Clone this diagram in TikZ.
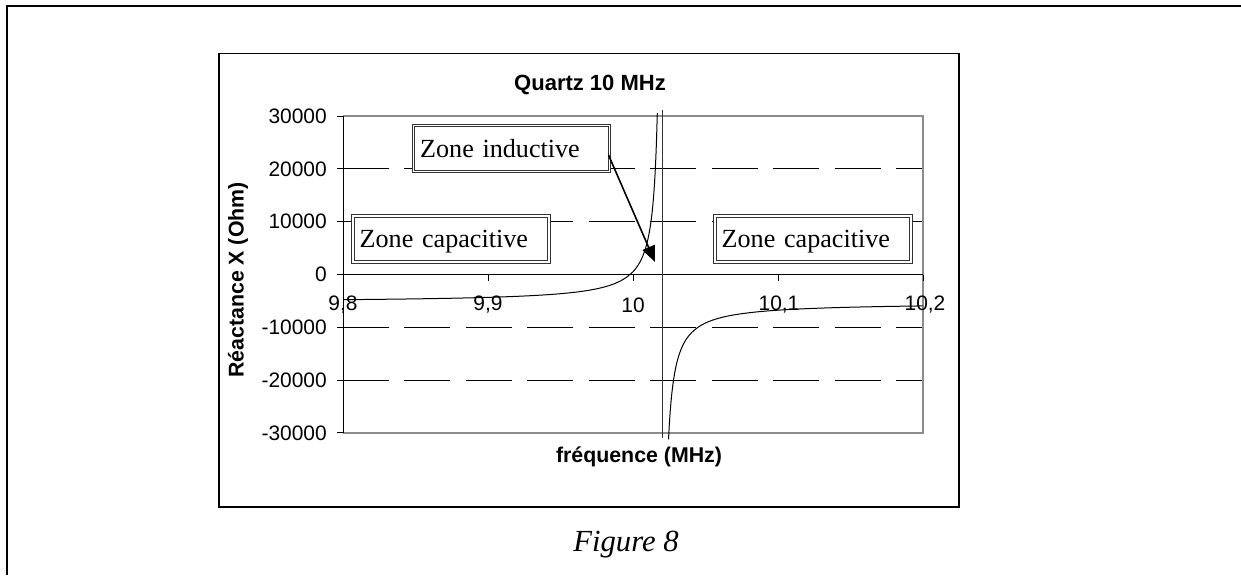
\documentclass[tikz,border=0pt]{standalone}
\usepackage{fontspec}
\setmainfont{Liberation Serif}
\newfontfamily\arialf{Liberation Sans}
\usetikzlibrary{arrows.meta}
\begin{document}
\begin{tikzpicture}[x=0.75pt,y=-0.75pt,
  ticklab/.style={font=\arialf\fontsize{15.7}{18}\selectfont, inner sep=0pt},
  axtitle/.style={font=\arialf\bfseries\fontsize{16}{19}\selectfont, inner sep=0pt},
  zbox/.style={draw=black!80, double=white, double distance=1.1pt, line width=0.75pt, fill=white,
    minimum width=147pt, minimum height=34.5pt, text width=137pt, align=left, inner xsep=4pt,
    font=\fontsize{19.6}{22}\selectfont, text height=13pt, text depth=0pt},
  gridl/.style={line width=0.75pt, dash pattern=on 34.5pt off 11.6pt},
  curvel/.style={line width=0.75pt},
  frame/.style={line width=0.8pt},
]
\useasboundingbox (0,0) rectangle (1241,575);
% outer frame
\draw[line width=1.5pt] (7,575) -- (7,6) -- (1241,6);
% chart frame
\draw[frame] (219,53.5) rectangle (959,507);
% title
\node[axtitle, font=\arialf\bfseries\fontsize{16.5}{19}\selectfont] (title) at (590,85) {Quartz 10 MHz};
% gridlines
\foreach \yy in {168.9,221.7,327.3,380.1} \draw[gridl] (343,\yy) -- (923,\yy);
% plot border
\draw[line width=1.1pt, black!45] (343,116.1) -- (923,116.1) -- (923,432.9) -- (343,432.9);
% axes
\draw[line width=0.75pt] (343,116.1) -- (343,432.9);
\draw[line width=0.75pt] (343,274.5) -- (923,274.5);
% y ticks
\foreach \yy in {116.1,168.9,221.7,274.5,327.3,380.1,432.9} \draw[line width=0.75pt] (337,\yy) -- (343,\yy);
% x ticks
\foreach \xx in {343,488,633,778,923} \draw[line width=0.75pt] (\xx,274.5) -- (\xx,280.5);
% y tick labels
\node[ticklab, anchor=east] (y3) at (327,116.1) {30000};
\node[ticklab, anchor=east] (y2) at (327,168.9) {20000};
\node[ticklab, anchor=east] (y1) at (327,221.7) {10000};
\node[ticklab, anchor=east] (y0) at (327,274.5) {0};
\node[ticklab, anchor=east] (ym1) at (327,327.3) {-10000};
\node[ticklab, anchor=east] (ym2) at (327,380.1) {-20000};
\node[ticklab, anchor=east] (ym3) at (327,432.9) {-30000};
% x tick labels
\node[ticklab] (x1) at (343,305) {9,8};
\node[ticklab] (x2) at (488,305) {9,9};
\node[ticklab] (x3) at (633,305) {10};
\node[ticklab] (x4) at (779,305) {10,1};
\node[ticklab] (x5) at (925,305) {10,2};
% axis titles
\node[axtitle, rotate=90] (ytitle) at (238,280) {Réactance X (Ohm)};
\node[axtitle] (xtitle) at (639,457) {fréquence (MHz)};
% boxes
\node[zbox] (zi) at (511.5,148.5) {Zone inductive};
\node[zbox] (zc1) at (451,239) {Zone capacitive};
\node[zbox] (zc2) at (813,239) {Zone capacitive};
% curve
\draw[curvel] plot[domain=9.8:10.0, samples=50, variable=\f] ({343+(\f-9.8)*1450},{274.5+27.984*(\f-9.998)/(\f-10.02)})
  -- plot[domain=10.0:10.0168, samples=60, variable=\f] ({343+(\f-9.8)*1450},{274.5+27.984*(\f-9.998)/(\f-10.02)});
\draw[curvel] plot[domain=10.0245:10.07, samples=80, variable=\f] ({343+(\f-9.8)*1450},{274.5+27.984*(\f-9.998)/(\f-10.02)})
  -- plot[domain=10.07:10.2, samples=30, variable=\f] ({343+(\f-9.8)*1450},{274.5+27.984*(\f-9.998)/(\f-10.02)});
% asymptote
\draw[line width=0.75pt, black!80] (662,110) -- (662,438);
% arrow
\coordinate (tip) at (655,262);
\draw[line width=1.2pt, -{Triangle[length=12pt,width=10pt]}] ([xshift=-1.1pt,yshift=-4.9pt]zi.east) -- (tip);
% caption
\node[font=\itshape\fontsize{23}{26}\selectfont, inner sep=0pt] (cap) at (626,545) {Figure 8};
\end{tikzpicture}
\end{document}
